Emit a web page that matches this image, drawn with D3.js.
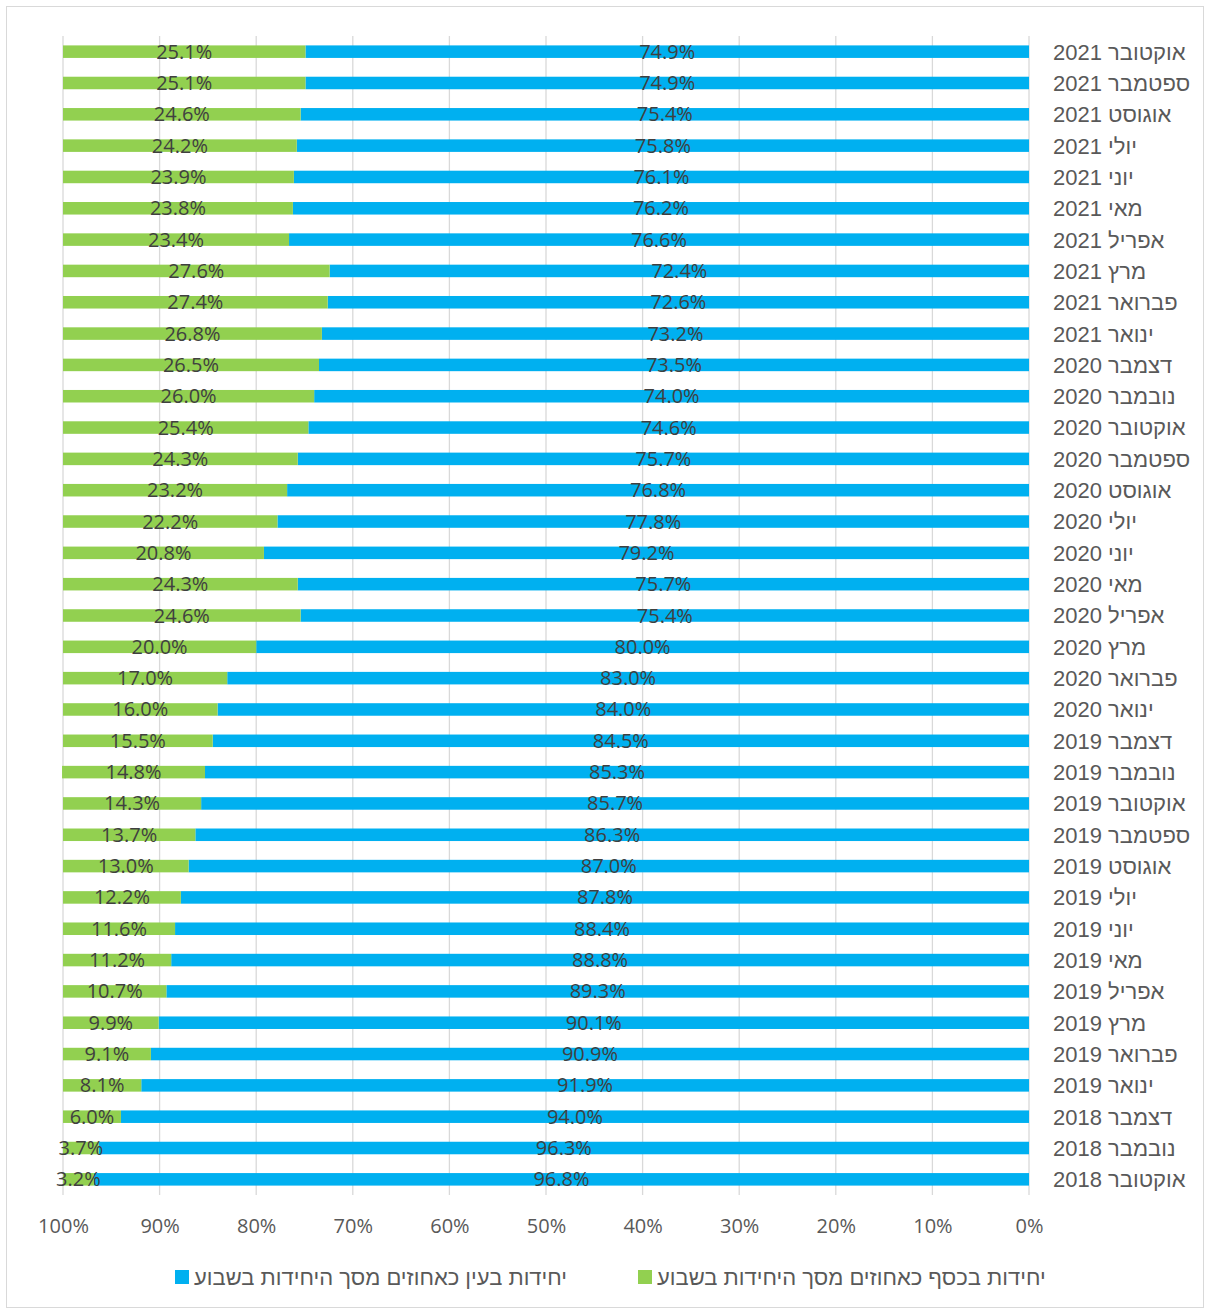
<!DOCTYPE html>
<html>
<head>
<meta charset="utf-8">
<script src="https://cdn.jsdelivr.net/npm/d3@7"></script>
<style>
  body { margin: 0; background: #fff; }
</style>
</head>
<body>
<svg></svg>
<script>
// categories, top to bottom
var categories = [
  "אוקטובר 2021", "ספטמבר 2021", "אוגוסט 2021", "יולי 2021", "יוני 2021", "מאי 2021",
  "אפריל 2021", "מרץ 2021", "פברואר 2021", "ינואר 2021", "דצמבר 2020", "נובמבר 2020",
  "אוקטובר 2020", "ספטמבר 2020", "אוגוסט 2020", "יולי 2020", "יוני 2020", "מאי 2020",
  "אפריל 2020", "מרץ 2020", "פברואר 2020", "ינואר 2020", "דצמבר 2019", "נובמבר 2019",
  "אוקטובר 2019", "ספטמבר 2019", "אוגוסט 2019", "יולי 2019", "יוני 2019", "מאי 2019",
  "אפריל 2019", "מרץ 2019", "פברואר 2019", "ינואר 2019", "דצמבר 2018", "נובמבר 2018",
  "אוקטובר 2018"
];

// יחידות בעין (blue)
var inKind = [
  74.9, 74.9, 75.4, 75.8, 76.1, 76.2, 76.6, 72.4, 72.6, 73.2, 73.5, 74.0,
  74.6, 75.7, 76.8, 77.8, 79.2, 75.7, 75.4, 80.0, 83.0, 84.0, 84.5, 85.3,
  85.7, 86.3, 87.0, 87.8, 88.4, 88.8, 89.3, 90.1, 90.9, 91.9, 94.0, 96.3, 96.8
];

// יחידות בכסף (green)
var inCash = [
  25.1, 25.1, 24.6, 24.2, 23.9, 23.8, 23.4, 27.6, 27.4, 26.8, 26.5, 26.0,
  25.4, 24.3, 23.2, 22.2, 20.8, 24.3, 24.6, 20.0, 17.0, 16.0, 15.5, 14.8,
  14.3, 13.7, 13.0, 12.2, 11.6, 11.2, 10.7, 9.9, 9.1, 8.1, 6.0, 3.7, 3.2
];

var xTicks = [100, 90, 80, 70, 60, 50, 40, 30, 20, 10, 0];

var seriesNames = [
  "יחידות בעין כאחוזים מסך היחידות בשבוע",
  "יחידות בכסף כאחוזים מסך היחידות בשבוע"
];
var blue = "#00b0f0", green = "#92d050";

var W = 1205, H = 1309;
var svg = d3.select("svg").attr("width", W).attr("height", H);

// chart frame
svg.append("rect")
    .attr("x", 6.5).attr("y", 6.5)
    .attr("width", W - 8).attr("height", H - 8)
    .attr("fill", "none").attr("stroke", "#d9d9d9");

var plot = { left: 63, right: 1029, top: 36, bottom: 1195 };

// reversed axis: 100% on the left, 0% on the right
var x = d3.scaleLinear().domain([100, 0]).range([plot.left, plot.right]);
var y = d3.scaleBand().domain(categories).range([plot.top, plot.bottom]).paddingInner(0.6).paddingOuter(0.3);

// gridlines
svg.append("g").selectAll("line")
    .data(xTicks)
    .join("line")
    .attr("x1", function(d) { return x(d); })
    .attr("x2", function(d) { return x(d); })
    .attr("y1", plot.top).attr("y2", plot.bottom)
    .attr("stroke", "#d9d9d9").attr("stroke-width", 1.3);

var rows = categories.map(function(c, i) {
  return { cat: c, kind: inKind[i], cash: inCash[i] };
});

var bars = svg.append("g");
// blue from 0 to inKind
bars.selectAll("rect.kind")
    .data(rows)
    .join("rect")
    .attr("class", "kind")
    .attr("x", function(d) { return x(d.kind); })
    .attr("y", function(d) { return y(d.cat); })
    .attr("width", function(d) { return x(0) - x(d.kind); })
    .attr("height", y.bandwidth())
    .attr("fill", blue);
// green stacked after blue
bars.selectAll("rect.cash")
    .data(rows)
    .join("rect")
    .attr("class", "cash")
    .attr("x", function(d) { return x(d.kind + d.cash); })
    .attr("y", function(d) { return y(d.cat); })
    .attr("width", function(d) { return x(d.kind) - x(d.kind + d.cash); })
    .attr("height", y.bandwidth())
    .attr("fill", green);

var labelFont = "'Open Sans', 'Noto Sans', sans-serif";
var hebFont = "'Liberation Sans', Arial, sans-serif";

var labels = svg.append("g")
    .attr("font-family", labelFont)
    .attr("font-size", 20)
    .attr("fill", "#404040")
    .attr("text-anchor", "middle");

labels.selectAll("text.kind")
    .data(rows)
    .join("text")
    .attr("class", "kind")
    .attr("x", function(d) { return (x(0) + x(d.kind)) / 2; })
    .attr("y", function(d) { return y(d.cat) + y.bandwidth() / 2 + 7; })
    .text(function(d) { return d.kind.toFixed(1) + "%"; });

labels.selectAll("text.cash")
    .data(rows)
    .join("text")
    .attr("class", "cash")
    .attr("x", function(d) { return (x(d.kind) + x(d.kind + d.cash)) / 2; })
    .attr("y", function(d) { return y(d.cat) + y.bandwidth() / 2 + 7; })
    .text(function(d) { return d.cash.toFixed(1) + "%"; });

// category labels on the right
var yAxis = d3.axisRight(y).tickSize(0).tickPadding(0);
var gy = svg.append("g")
    .attr("transform", "translate(1053,0)")
    .attr("font-family", hebFont)
    .call(yAxis);
gy.select(".domain").remove();
gy.attr("font-family", hebFont);
gy.selectAll("text")
    .style("font-family", hebFont)
    .attr("font-size", 22)
    .attr("fill", "#595959")
    .attr("dy", "0.36em");

// x axis tick labels
var xAxis = d3.axisBottom(x).tickValues(xTicks).tickSize(0).tickPadding(0)
    .tickFormat(function(d) { return d + "%"; });
var gx = svg.append("g")
    .attr("transform", "translate(0,1226)")
    .call(xAxis);
gx.select(".domain").remove();
gx.selectAll("text")
    .style("font-family", labelFont)
    .attr("font-size", 20)
    .attr("fill", "#595959")
    .attr("dy", "0.36em");

// legend
var legendItems = [
  { name: seriesNames[0], color: blue, x: 175 },
  { name: seriesNames[1], color: green, x: 638 }
];
var lg = svg.append("g").selectAll("g")
    .data(legendItems)
    .join("g")
    .attr("transform", function(d) { return "translate(" + d.x + ",1277)"; });
lg.append("rect")
    .attr("x", 0).attr("y", -7)
    .attr("width", 14).attr("height", 14)
    .attr("fill", function(d) { return d.color; });
lg.append("text")
    .attr("x", 19).attr("y", 0).attr("dy", "0.36em")
    .style("font-family", hebFont)
    .attr("font-size", 22)
    .attr("fill", "#595959")
    .text(function(d) { return d.name; });
</script>
</body>
</html>
